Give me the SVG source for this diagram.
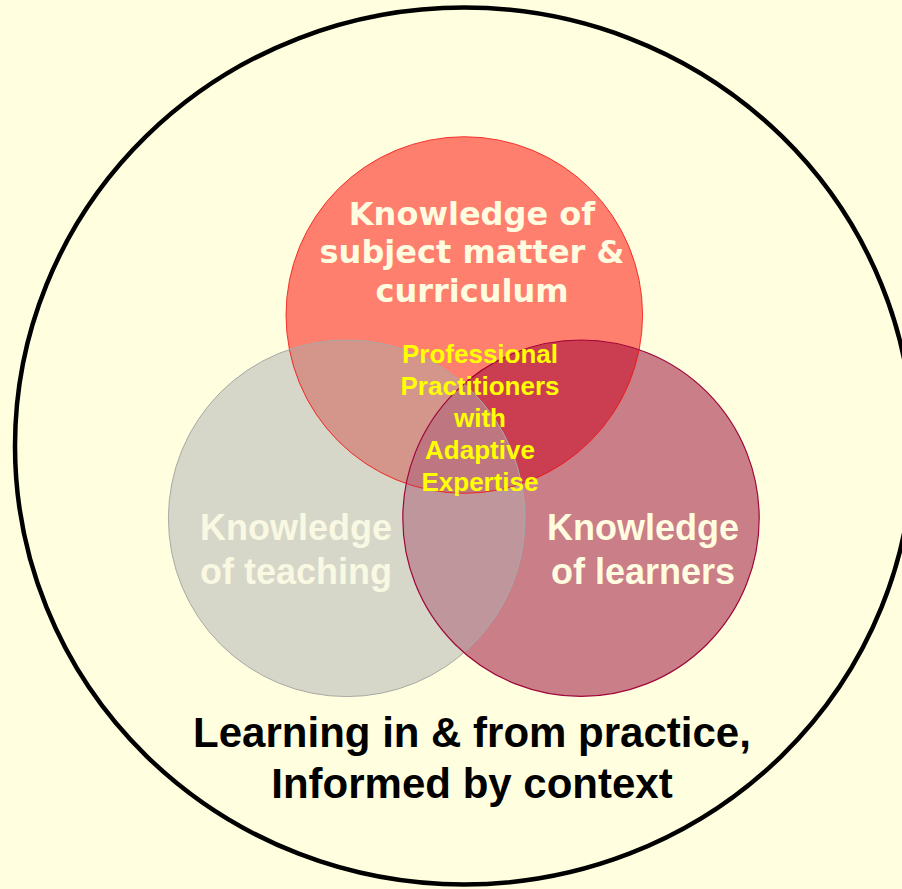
<svg xmlns="http://www.w3.org/2000/svg" width="902" height="889" viewBox="0 0 902 889">
  <style>
    .lbl { font-family: "Liberation Sans", Arial, sans-serif; font-weight: bold; text-anchor: middle; }
    .verd { font-family: "DejaVu Sans", Verdana, sans-serif; font-weight: bold; text-anchor: middle; }
    .cream { fill: #FFFCE0; }
  </style>
  <defs>
    <clipPath id="clipTop"><circle cx="464.3" cy="315" r="178.3"/></clipPath>
    <clipPath id="clipGray"><circle cx="346.7" cy="518.3" r="178.3"/></clipPath>
    <clipPath id="clipRight"><circle cx="581" cy="518.2" r="178.2"/></clipPath>
  </defs>
  <rect x="0" y="0" width="902" height="889" fill="#FFFFE0"/>

  <g id="context">
    <ellipse cx="464" cy="446" rx="449" ry="438.5" fill="none" stroke="#000000" stroke-width="4.5"/>
    <text class="lbl" x="472" y="747" font-size="42" fill="#000000">Learning in &amp; from practice,</text>
    <text class="lbl" x="472" y="798" font-size="42" fill="#000000">Informed by context</text>
  </g>

  <g id="teaching">
    <circle cx="346.7" cy="518.3" r="178.3" fill="#D6D7C8"/>
  </g>
  <g id="learners">
    <circle cx="581" cy="518.2" r="178.2" fill="#CA7E88"/>
  </g>
  <g id="subject">
    <circle cx="464.3" cy="315" r="178.3" fill="#FF7F6E"/>
  </g>

  <g id="overlaps">
    <circle cx="346.7" cy="518.3" r="178.3" fill="#D4958A" clip-path="url(#clipTop)"/>
    <circle cx="581" cy="518.2" r="178.2" fill="#CB3D50" clip-path="url(#clipTop)"/>
    <circle cx="581" cy="518.2" r="178.2" fill="#BF969C" clip-path="url(#clipGray)"/>
    <g clip-path="url(#clipTop)">
      <circle cx="581" cy="518.2" r="178.2" fill="#BE7680" clip-path="url(#clipGray)"/>
    </g>
  </g>

  <g id="outlines" fill="none">
    <circle cx="464.3" cy="315" r="178.3" stroke="#F01010" stroke-width="1" stroke-opacity="0.8"/>
    <circle cx="346.7" cy="518.3" r="178.3" stroke="#A9A9A6" stroke-width="1"/>
    <circle cx="581" cy="518.2" r="178.2" stroke="#A0063A" stroke-width="1.2"/>
  </g>

  <g id="subject-label">
    <text class="verd cream" x="472" y="225" font-size="32">Knowledge of</text>
    <text class="verd cream" x="472" y="263" font-size="32">subject matter &amp;</text>
    <text class="verd cream" x="472" y="302" font-size="32">curriculum</text>
  </g>
  <g id="teaching-label">
    <text class="lbl" x="296" y="540" font-size="36" fill="#F9F8E2">Knowledge</text>
    <text class="lbl" x="296" y="584" font-size="36" fill="#F9F8E2">of teaching</text>
  </g>
  <g id="learners-label">
    <text class="lbl cream" x="643" y="540" font-size="36">Knowledge</text>
    <text class="lbl cream" x="643" y="584" font-size="36">of learners</text>
  </g>
  <g id="center">
    <text class="lbl" x="480" y="363" font-size="26" fill="#FFFF00">Professional</text>
    <text class="lbl" x="480" y="395" font-size="26" fill="#FFFF00">Practitioners</text>
    <text class="lbl" x="480" y="427" font-size="26" fill="#FFFF00">with</text>
    <text class="lbl" x="480" y="459" font-size="26" fill="#FFFF00">Adaptive</text>
    <text class="lbl" x="480" y="491" font-size="26" fill="#FFFF00">Expertise</text>
  </g>
  <g id="connectors"/>
</svg>
